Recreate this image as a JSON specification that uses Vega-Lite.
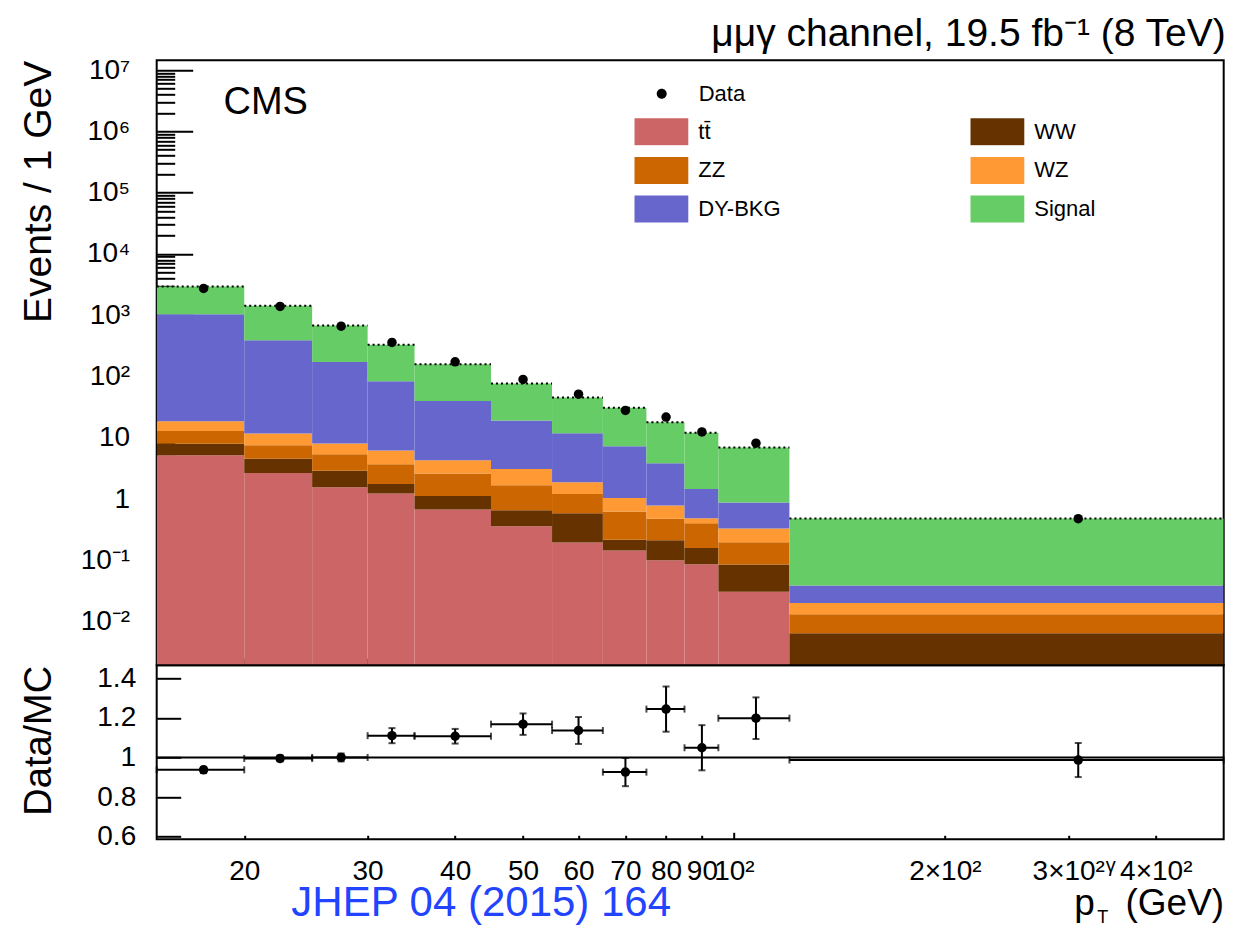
{
  "$schema": "https://vega.github.io/schema/vega-lite/v6.json",
  "background": "white",
  "padding": {"left": 18.7, "top": 14.3, "right": 10, "bottom": 3},
  "spacing": 0,
  "bounds": "flush",
  "config": {
    "font": "Liberation Sans",
    "view": {"stroke": "black", "strokeWidth": 2},
    "axis": {"domain": false, "grid": false, "tickColor": "black", "tickWidth": 2, "labelFont": "Liberation Sans", "labelFontSize": 28, "labelColor": "black", "titleFont": "Liberation Sans", "titleFontWeight": "normal", "titleColor": "black", "labelOverlap": false, "labelBound": false, "labelFlush": false, "zindex": 1},
    "legend": {"labelFont": "Liberation Sans", "labelFontSize": 22, "labelColor": "black"}
  },
  "title": {"text": "μμγ channel, 19.5 fb⁻¹ (8 TeV)", "anchor": "end", "fontSize": 39, "fontWeight": "normal", "color": "black", "font": "Liberation Sans", "offset": 1},
  "datasets": {
    "bkg": [
      {"bin": 1, "xlo": 15, "xhi": 20, "process": "tt̄", "order": 1, "value": 5.22},
      {"bin": 1, "xlo": 15, "xhi": 20, "process": "WW", "order": 2, "value": 2.76},
      {"bin": 1, "xlo": 15, "xhi": 20, "process": "ZZ", "order": 3, "value": 4.92},
      {"bin": 1, "xlo": 15, "xhi": 20, "process": "WZ", "order": 4, "value": 5.8},
      {"bin": 1, "xlo": 15, "xhi": 20, "process": "DY-BKG", "order": 5, "value": 1023},
      {"bin": 1, "xlo": 15, "xhi": 20, "process": "Signal", "order": 6, "value": 1908},
      {"bin": 2, "xlo": 20, "xhi": 25, "process": "tt̄", "order": 1, "value": 2.66},
      {"bin": 2, "xlo": 20, "xhi": 25, "process": "WW", "order": 2, "value": 1.89},
      {"bin": 2, "xlo": 20, "xhi": 25, "process": "ZZ", "order": 3, "value": 3.05},
      {"bin": 2, "xlo": 20, "xhi": 25, "process": "WZ", "order": 4, "value": 4.2},
      {"bin": 2, "xlo": 20, "xhi": 25, "process": "DY-BKG", "order": 5, "value": 380},
      {"bin": 2, "xlo": 20, "xhi": 25, "process": "Signal", "order": 6, "value": 1038},
      {"bin": 3, "xlo": 25, "xhi": 30, "process": "tt̄", "order": 1, "value": 1.57},
      {"bin": 3, "xlo": 25, "xhi": 30, "process": "WW", "order": 2, "value": 1.33},
      {"bin": 3, "xlo": 25, "xhi": 30, "process": "ZZ", "order": 3, "value": 2.52},
      {"bin": 3, "xlo": 25, "xhi": 30, "process": "WZ", "order": 4, "value": 2.68},
      {"bin": 3, "xlo": 25, "xhi": 30, "process": "DY-BKG", "order": 5, "value": 164},
      {"bin": 3, "xlo": 25, "xhi": 30, "process": "Signal", "order": 6, "value": 510},
      {"bin": 4, "xlo": 30, "xhi": 35, "process": "tt̄", "order": 1, "value": 1.24},
      {"bin": 4, "xlo": 30, "xhi": 35, "process": "WW", "order": 2, "value": 0.52},
      {"bin": 4, "xlo": 30, "xhi": 35, "process": "ZZ", "order": 3, "value": 1.96},
      {"bin": 4, "xlo": 30, "xhi": 35, "process": "WZ", "order": 4, "value": 2.51},
      {"bin": 4, "xlo": 30, "xhi": 35, "process": "DY-BKG", "order": 5, "value": 77.8},
      {"bin": 4, "xlo": 30, "xhi": 35, "process": "Signal", "order": 6, "value": 245},
      {"bin": 5, "xlo": 35, "xhi": 45, "process": "tt̄", "order": 1, "value": 0.68},
      {"bin": 5, "xlo": 35, "xhi": 45, "process": "WW", "order": 2, "value": 0.45},
      {"bin": 5, "xlo": 35, "xhi": 45, "process": "ZZ", "order": 3, "value": 1.5},
      {"bin": 5, "xlo": 35, "xhi": 45, "process": "WZ", "order": 4, "value": 1.7},
      {"bin": 5, "xlo": 35, "xhi": 45, "process": "DY-BKG", "order": 5, "value": 35.4},
      {"bin": 5, "xlo": 35, "xhi": 45, "process": "Signal", "order": 6, "value": 119},
      {"bin": 6, "xlo": 45, "xhi": 55, "process": "tt̄", "order": 1, "value": 0.363},
      {"bin": 6, "xlo": 45, "xhi": 55, "process": "WW", "order": 2, "value": 0.297},
      {"bin": 6, "xlo": 45, "xhi": 55, "process": "ZZ", "order": 3, "value": 1.03},
      {"bin": 6, "xlo": 45, "xhi": 55, "process": "WZ", "order": 4, "value": 1.4},
      {"bin": 6, "xlo": 45, "xhi": 55, "process": "DY-BKG", "order": 5, "value": 16.1},
      {"bin": 6, "xlo": 45, "xhi": 55, "process": "Signal", "order": 6, "value": 58},
      {"bin": 7, "xlo": 55, "xhi": 65, "process": "tt̄", "order": 1, "value": 0.197},
      {"bin": 7, "xlo": 55, "xhi": 65, "process": "WW", "order": 2, "value": 0.393},
      {"bin": 7, "xlo": 55, "xhi": 65, "process": "ZZ", "order": 3, "value": 0.62},
      {"bin": 7, "xlo": 55, "xhi": 65, "process": "WZ", "order": 4, "value": 0.68},
      {"bin": 7, "xlo": 55, "xhi": 65, "process": "DY-BKG", "order": 5, "value": 10.0},
      {"bin": 7, "xlo": 55, "xhi": 65, "process": "Signal", "order": 6, "value": 33.7},
      {"bin": 8, "xlo": 65, "xhi": 75, "process": "tt̄", "order": 1, "value": 0.146},
      {"bin": 8, "xlo": 65, "xhi": 75, "process": "WW", "order": 2, "value": 0.071},
      {"bin": 8, "xlo": 65, "xhi": 75, "process": "ZZ", "order": 3, "value": 0.413},
      {"bin": 8, "xlo": 65, "xhi": 75, "process": "WZ", "order": 4, "value": 0.41},
      {"bin": 8, "xlo": 65, "xhi": 75, "process": "DY-BKG", "order": 5, "value": 6.26},
      {"bin": 8, "xlo": 65, "xhi": 75, "process": "Signal", "order": 6, "value": 23.6},
      {"bin": 9, "xlo": 75, "xhi": 85, "process": "tt̄", "order": 1, "value": 0.101},
      {"bin": 9, "xlo": 75, "xhi": 85, "process": "WW", "order": 2, "value": 0.113},
      {"bin": 9, "xlo": 75, "xhi": 85, "process": "ZZ", "order": 3, "value": 0.266},
      {"bin": 9, "xlo": 75, "xhi": 85, "process": "WZ", "order": 4, "value": 0.31},
      {"bin": 9, "xlo": 75, "xhi": 85, "process": "DY-BKG", "order": 5, "value": 3.08},
      {"bin": 9, "xlo": 75, "xhi": 85, "process": "Signal", "order": 6, "value": 14.1},
      {"bin": 10, "xlo": 85, "xhi": 95, "process": "tt̄", "order": 1, "value": 0.087},
      {"bin": 10, "xlo": 85, "xhi": 95, "process": "WW", "order": 2, "value": 0.072},
      {"bin": 10, "xlo": 85, "xhi": 95, "process": "ZZ", "order": 3, "value": 0.246},
      {"bin": 10, "xlo": 85, "xhi": 95, "process": "WZ", "order": 4, "value": 0.085},
      {"bin": 10, "xlo": 85, "xhi": 95, "process": "DY-BKG", "order": 5, "value": 0.97},
      {"bin": 10, "xlo": 85, "xhi": 95, "process": "Signal", "order": 6, "value": 10.64},
      {"bin": 11, "xlo": 95, "xhi": 120, "process": "tt̄", "order": 1, "value": 0.0308},
      {"bin": 11, "xlo": 95, "xhi": 120, "process": "WW", "order": 2, "value": 0.055},
      {"bin": 11, "xlo": 95, "xhi": 120, "process": "ZZ", "order": 3, "value": 0.113},
      {"bin": 11, "xlo": 95, "xhi": 120, "process": "WZ", "order": 4, "value": 0.134},
      {"bin": 11, "xlo": 95, "xhi": 120, "process": "DY-BKG", "order": 5, "value": 0.547},
      {"bin": 11, "xlo": 95, "xhi": 120, "process": "Signal", "order": 6, "value": 6.09},
      {"bin": 12, "xlo": 120, "xhi": 500, "process": "WW", "order": 2, "value": 0.00652},
      {"bin": 12, "xlo": 120, "xhi": 500, "process": "ZZ", "order": 3, "value": 0.00678},
      {"bin": 12, "xlo": 120, "xhi": 500, "process": "WZ", "order": 4, "value": 0.007},
      {"bin": 12, "xlo": 120, "xhi": 500, "process": "DY-BKG", "order": 5, "value": 0.0188},
      {"bin": 12, "xlo": 120, "xhi": 500, "process": "Signal", "order": 6, "value": 0.445}
    ],
    "obs": [
      {"x": 17.5, "xlo": 15, "xhi": 20, "events": 2735, "ratio": 0.9375, "err": 0.015},
      {"x": 22.5, "xlo": 20, "xhi": 25, "events": 1390, "ratio": 0.995, "err": 0.015},
      {"x": 27.5, "xlo": 25, "xhi": 30, "events": 664, "ratio": 1.0, "err": 0.02},
      {"x": 32.5, "xlo": 30, "xhi": 35, "events": 360, "ratio": 1.11, "err": 0.038},
      {"x": 40, "xlo": 35, "xhi": 45, "events": 174, "ratio": 1.107, "err": 0.037},
      {"x": 50, "xlo": 45, "xhi": 55, "events": 89.7, "ratio": 1.168, "err": 0.054},
      {"x": 60, "xlo": 55, "xhi": 65, "events": 51.6, "ratio": 1.136, "err": 0.068},
      {"x": 70, "xlo": 65, "xhi": 75, "events": 28, "ratio": 0.926, "err": 0.071},
      {"x": 80, "xlo": 75, "xhi": 85, "events": 21.8, "ratio": 1.244, "err": 0.114},
      {"x": 90, "xlo": 85, "xhi": 95, "events": 12.5, "ratio": 1.049, "err": 0.114},
      {"x": 107.5, "xlo": 95, "xhi": 120, "events": 8.2, "ratio": 1.198, "err": 0.105},
      {"x": 310, "xlo": 120, "xhi": 500, "events": 0.48, "ratio": 0.987, "err": 0.086}
    ]
  },
  "vconcat": [
    {
      "width": 1067,
      "height": 605,
      "layer": [
        {
          "data": {"name": "bkg"},
          "transform": [{"stack": "value", "groupby": ["bin"], "sort": [{"field": "order", "order": "ascending"}], "as": ["lo", "hi"]}],
          "mark": {"type": "rect", "clip": true},
          "encoding": {
            "x": {"field": "xlo", "type": "quantitative", "scale": {"type": "log", "domain": [15, 500], "nice": false},
              "axis": {"values": [20, 30, 40, 50, 60, 70, 80, 90, 100, 200, 300, 400], "labels": false, "title": null,
                "tickSize": {"condition": {"test": "datum.value == 100", "value": -13}, "value": -7}}},
            "x2": {"field": "xhi"},
            "y": {"field": "hi", "type": "quantitative", "scale": {"type": "log", "domain": [0.00195, 14400000], "nice": false, "clamp": true},
              "axis": {
                "values": [0.002,0.003,0.004,0.005,0.006,0.007,0.008,0.009,0.01,0.02,0.03,0.04,0.05,0.06,0.07,0.08,0.09,0.1,0.2,0.3,0.4,0.5,0.6,0.7,0.8,0.9,1,2,3,4,5,6,7,8,9,10,20,30,40,50,60,70,80,90,100,200,300,400,500,600,700,800,900,1000,2000,3000,4000,5000,6000,7000,8000,9000,10000,20000,30000,40000,50000,60000,70000,80000,90000,100000,200000,300000,400000,500000,600000,700000,800000,900000,1000000,2000000,3000000,4000000,5000000,6000000,7000000,8000000,9000000,10000000],
                "labelExpr": "abs(log(datum.value)/LN10 - round(log(datum.value)/LN10)) > 0.001 ? '' : ['10⁻³','10⁻²','10⁻¹','1','10','10²','10³','10⁴','10⁵','10⁶','10⁷'][round(log(datum.value)/LN10)+3]",
                "tickSize": {"condition": {"test": "abs(log(datum.value)/LN10 - round(log(datum.value)/LN10)) < 0.001", "value": -36}, "value": -18},
                "labelPadding": 63,
                "title": "Events / 1 GeV", "titleFontSize": 39, "titleX": -105.7, "titleY": 0, "titleAlign": "right", "titleBaseline": "alphabetic", "titleAngle": -90
              }},
            "y2": {"field": "lo"},
            "fill": {"field": "process", "type": "nominal",
              "scale": {"domain": ["tt̄", "WW", "ZZ", "WZ", "DY-BKG", "Signal"], "range": ["#cc6666", "#663300", "#cc6600", "#ff9933", "#6666cc", "#66cc66"]},
              "legend": {"title": null, "orient": "none", "legendX": 477.6, "legendY": 57.4, "columns": 2, "direction": "horizontal", "columnPadding": 189, "rowPadding": 10.7, "padding": 0,
                "symbolType": "M-1,-0.5H1V0.5H-1Z", "symbolSize": 2916, "clipHeight": 28, "symbolStrokeWidth": 0, "symbolOpacity": 1, "labelOffset": 10, "labelFontSize": 22}}
          }
        },
        {
          "data": {"name": "bkg"},
          "transform": [{"stack": "value", "groupby": ["bin"], "sort": [{"field": "order", "order": "ascending"}], "as": ["lo", "hi"]}, {"filter": "datum.process == 'Signal'"}],
          "mark": {"type": "rule", "strokeDash": [2, 3], "strokeWidth": 2, "color": "black", "clip": true},
          "encoding": {
            "x": {"field": "xlo", "type": "quantitative", "scale": {"type": "log", "domain": [15, 500], "nice": false}},
            "x2": {"field": "xhi"},
            "y": {"field": "hi", "type": "quantitative", "scale": {"type": "log", "domain": [0.00195, 14400000], "nice": false, "clamp": true}}
          }
        },
        {
          "data": {"name": "obs"},
          "mark": {"type": "circle", "size": 90, "opacity": 1},
          "encoding": {
            "x": {"field": "x", "type": "quantitative", "scale": {"type": "log", "domain": [15, 500], "nice": false}},
            "y": {"field": "events", "type": "quantitative", "scale": {"type": "log", "domain": [0.00195, 14400000], "nice": false, "clamp": true}},
            "color": {"datum": "Data", "type": "nominal", "scale": {"domain": ["Data"], "range": ["black"]},
              "legend": {"title": null, "orient": "none", "legendX": 478, "legendY": 19.4, "padding": 0,
                "symbolType": "M0.185,0A0.185,0.185,0,1,1,-0.185,0A0.185,0.185,0,1,1,0.185,0Z", "symbolSize": 2916, "clipHeight": 28, "symbolStrokeWidth": 0, "symbolOpacity": 1, "labelOffset": 10, "labelFontSize": 22}}
          }
        },
        {
          "data": {"values": [{}]},
          "mark": {"type": "text", "text": "CMS", "align": "left", "baseline": "alphabetic", "fontSize": 38, "font": "Liberation Sans", "color": "black"},
          "encoding": {
            "x": {"datum": 18.68, "type": "quantitative", "scale": {"type": "log", "domain": [15, 500], "nice": false}},
            "y": {"datum": 1930000, "type": "quantitative", "scale": {"type": "log", "domain": [0.00195, 14400000], "nice": false, "clamp": true}}
          }
        }
      ]
    },
    {
      "width": 1067,
      "height": 174,
      "layer": [
        {
          "data": {"values": [{}]},
          "mark": {"type": "rule", "strokeWidth": 2, "color": "black"},
          "encoding": {
            "y": {"datum": 1, "type": "quantitative", "title": "Data/MC", "scale": {"domain": [0.587, 1.465], "nice": false, "zero": false},
              "axis": {
                "values": [0.6,0.65,0.7,0.75,0.8,0.85,0.9,0.95,1.0,1.05,1.1,1.15,1.2,1.25,1.3,1.35,1.4,1.45],
                "labelExpr": "abs(datum.value*5 - round(datum.value*5)) > 0.001 ? '' : (abs(datum.value-1) < 0.001 ? '1' : format(datum.value, '.1f'))",
                "tickSize": {"condition": {"test": "abs(datum.value*5 - round(datum.value*5)) < 0.001", "value": -24}, "value": -11},
                "labelPadding": 45,
                "title": "Data/MC", "titleFontSize": 38, "titleX": -105.7, "titleY": 0, "titleAlign": "right", "titleBaseline": "alphabetic", "titleAngle": -90
              }}
          }
        },
        {
          "data": {"name": "obs"},
          "mark": {"type": "errorbar", "ticks": {"size": 7}, "thickness": 2, "color": "black"},
          "encoding": {
            "x": {"field": "xlo", "type": "quantitative", "title": "p\u00a0\u00a0\u00a0(GeV)", "scale": {"type": "log", "domain": [15, 500], "nice": false},
              "axis": {"values": [20, 30, 40, 50, 60, 70, 80, 90, 100, 200, 300, 400],
                "labelExpr": "datum.value < 100 ? format(datum.value, 'd') : (datum.value == 100 ? '10²' : format(datum.value/100, 'd') + '×10²')",
                "tickSize": {"condition": {"test": "datum.value == 100", "value": -7}, "value": -4},
                "labelPadding": {"condition": {"test": "datum.value == 100", "value": 25}, "value": 22},
                "title": "p\u00a0\u00a0\u00a0(GeV)", "titleFontSize": 37, "titleX": 1067, "titleY": 75, "titleAlign": "right", "titleBaseline": "alphabetic", "titleAnchor": "end"}},
            "x2": {"field": "xhi"},
            "y": {"field": "ratio", "type": "quantitative", "title": "Data/MC", "scale": {"domain": [0.587, 1.465], "nice": false, "zero": false}}
          }
        },
        {
          "data": {"name": "obs"},
          "mark": {"type": "errorbar", "ticks": {"size": 7}, "thickness": 2, "color": "black"},
          "encoding": {
            "x": {"field": "x", "type": "quantitative", "title": "p\u00a0\u00a0\u00a0(GeV)", "scale": {"type": "log", "domain": [15, 500], "nice": false}},
            "y": {"field": "ratio", "type": "quantitative", "title": "Data/MC", "scale": {"domain": [0.587, 1.465], "nice": false, "zero": false}},
            "yError": {"field": "err"}
          }
        },
        {
          "data": {"name": "obs"},
          "mark": {"type": "circle", "size": 90, "opacity": 1, "color": "black"},
          "encoding": {
            "x": {"field": "x", "type": "quantitative", "title": "p\u00a0\u00a0\u00a0(GeV)", "scale": {"type": "log", "domain": [15, 500], "nice": false}},
            "y": {"field": "ratio", "type": "quantitative", "title": "Data/MC", "scale": {"domain": [0.587, 1.465], "nice": false, "zero": false}}
          }
        },
        {
          "data": {"values": [{}]},
          "mark": {"type": "text", "text": "JHEP 04 (2015) 164", "align": "left", "baseline": "alphabetic", "fontSize": 42, "font": "Liberation Sans", "color": "#2244ff"},
          "encoding": {
            "x": {"datum": 23.35, "type": "quantitative", "title": "p\u00a0\u00a0\u00a0(GeV)", "scale": {"type": "log", "domain": [15, 500], "nice": false}},
            "y": {"datum": 0.2, "type": "quantitative", "title": "Data/MC", "scale": {"domain": [0.587, 1.465], "nice": false, "zero": false}}
          }
        },
        {
          "data": {"values": [{}]},
          "mark": {"type": "text", "text": "γ", "align": "center", "baseline": "middle", "fontSize": 20, "font": "Liberation Sans", "color": "black"},
          "encoding": {
            "x": {"datum": 345, "type": "quantitative", "title": "p\u00a0\u00a0\u00a0(GeV)", "scale": {"type": "log", "domain": [15, 500], "nice": false}},
            "y": {"datum": 0.45, "type": "quantitative", "title": "Data/MC", "scale": {"domain": [0.587, 1.465], "nice": false, "zero": false}}
          }
        },
        {
          "data": {"values": [{}]},
          "mark": {"type": "text", "text": "T", "align": "center", "baseline": "middle", "fontSize": 18, "font": "Liberation Sans", "color": "black"},
          "encoding": {
            "x": {"datum": 336, "type": "quantitative", "title": "p\u00a0\u00a0\u00a0(GeV)", "scale": {"type": "log", "domain": [15, 500], "nice": false}},
            "y": {"datum": 0.19, "type": "quantitative", "title": "Data/MC", "scale": {"domain": [0.587, 1.465], "nice": false, "zero": false}}
          }
        }
      ]
    }
  ]
}
